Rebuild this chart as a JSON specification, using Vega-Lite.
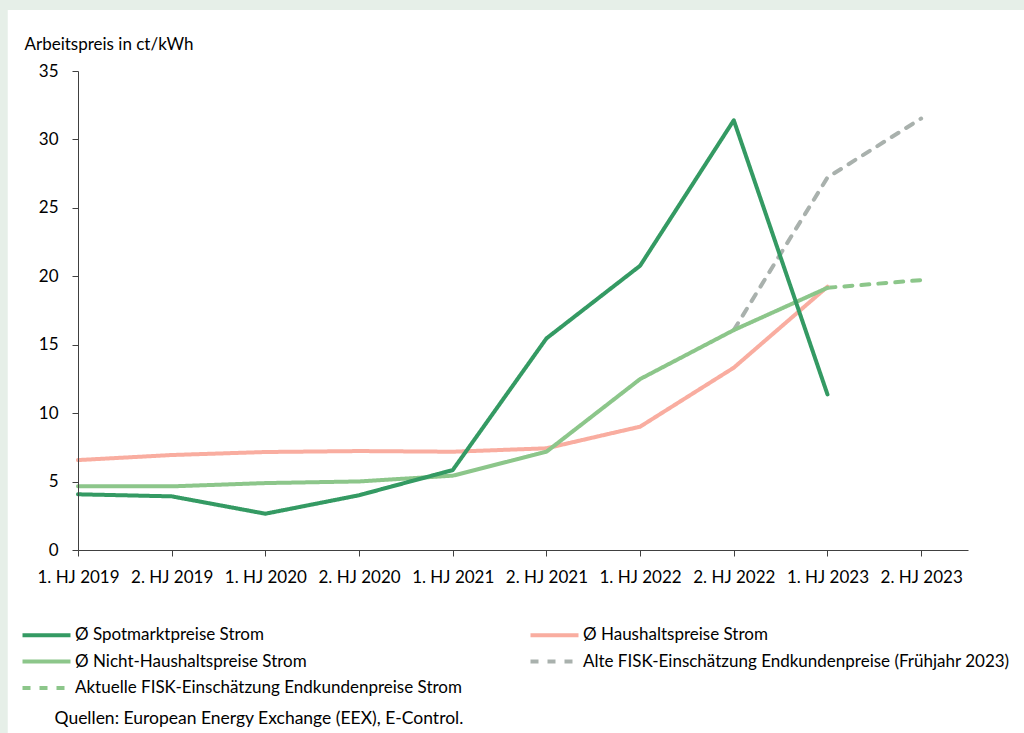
{
  "$schema": "https://vega.github.io/schema/vega-lite/v6.json",
  "autosize": {"type": "none"},
  "width": 890,
  "height": 479,
  "padding": {"left": 78, "top": 71, "right": 56, "bottom": 183},
  "background": "#e6efe8",
  "config": {
    "view": {"stroke": null},
    "font": "Lato",
    "axis": {"grid": false, "zindex": 1, "domainColor": "#404040", "tickColor": "#404040", "labelColor": "#000000", "titleColor": "#000000", "labelFont": "Lato", "titleFont": "Lato", "titleFontWeight": "normal"}
  },
  "layer": [
    {
      "data": {"values": [{"panel": "bg"}]},
      "mark": {"type": "rect", "color": "#ffffff"},
      "encoding": {
        "x": {"datum": -0.75, "type": "quantitative", "scale": {"domain": [0, 9.5]}, "axis": {"zindex": 1}},
        "x2": {"datum": 12},
        "y": {"datum": -20, "type": "quantitative", "scale": {"domain": [0, 35]}, "axis": {"zindex": 1}},
        "y2": {"datum": 39.45}
      }
    },
    {
      "data": {"values": [
        {"series": "Alte FISK-Einschätzung Endkundenpreise (Frühjahr 2023)", "i": 7, "period": "2. HJ 2022", "value": 16.07},
        {"series": "Alte FISK-Einschätzung Endkundenpreise (Frühjahr 2023)", "i": 8, "period": "1. HJ 2023", "value": 27.22},
        {"series": "Alte FISK-Einschätzung Endkundenpreise (Frühjahr 2023)", "i": 9, "period": "2. HJ 2023", "value": 31.53},
        {"series": "Aktuelle FISK-Einschätzung Endkundenpreise Strom", "i": 8, "period": "1. HJ 2023", "value": 19.16},
        {"series": "Aktuelle FISK-Einschätzung Endkundenpreise Strom", "i": 9, "period": "2. HJ 2023", "value": 19.72},
        {"series": "Ø Haushaltspreise Strom", "i": 0, "period": "1. HJ 2019", "value": 6.57},
        {"series": "Ø Haushaltspreise Strom", "i": 1, "period": "2. HJ 2019", "value": 6.94},
        {"series": "Ø Haushaltspreise Strom", "i": 2, "period": "1. HJ 2020", "value": 7.16},
        {"series": "Ø Haushaltspreise Strom", "i": 3, "period": "2. HJ 2020", "value": 7.23},
        {"series": "Ø Haushaltspreise Strom", "i": 4, "period": "1. HJ 2021", "value": 7.18},
        {"series": "Ø Haushaltspreise Strom", "i": 5, "period": "2. HJ 2021", "value": 7.43},
        {"series": "Ø Haushaltspreise Strom", "i": 6, "period": "1. HJ 2022", "value": 9.01},
        {"series": "Ø Haushaltspreise Strom", "i": 7, "period": "2. HJ 2022", "value": 13.32},
        {"series": "Ø Haushaltspreise Strom", "i": 8, "period": "1. HJ 2023", "value": 19.24},
        {"series": "Ø Nicht-Haushaltspreise Strom", "i": 0, "period": "1. HJ 2019", "value": 4.65},
        {"series": "Ø Nicht-Haushaltspreise Strom", "i": 1, "period": "2. HJ 2019", "value": 4.65},
        {"series": "Ø Nicht-Haushaltspreise Strom", "i": 2, "period": "1. HJ 2020", "value": 4.89},
        {"series": "Ø Nicht-Haushaltspreise Strom", "i": 3, "period": "2. HJ 2020", "value": 5.01},
        {"series": "Ø Nicht-Haushaltspreise Strom", "i": 4, "period": "1. HJ 2021", "value": 5.43},
        {"series": "Ø Nicht-Haushaltspreise Strom", "i": 5, "period": "2. HJ 2021", "value": 7.18},
        {"series": "Ø Nicht-Haushaltspreise Strom", "i": 6, "period": "1. HJ 2022", "value": 12.49},
        {"series": "Ø Nicht-Haushaltspreise Strom", "i": 7, "period": "2. HJ 2022", "value": 16.07},
        {"series": "Ø Nicht-Haushaltspreise Strom", "i": 8, "period": "1. HJ 2023", "value": 19.16},
        {"series": "Ø Spotmarktpreise Strom", "i": 0, "period": "1. HJ 2019", "value": 4.07},
        {"series": "Ø Spotmarktpreise Strom", "i": 1, "period": "2. HJ 2019", "value": 3.92},
        {"series": "Ø Spotmarktpreise Strom", "i": 2, "period": "1. HJ 2020", "value": 2.65},
        {"series": "Ø Spotmarktpreise Strom", "i": 3, "period": "2. HJ 2020", "value": 4.0},
        {"series": "Ø Spotmarktpreise Strom", "i": 4, "period": "1. HJ 2021", "value": 5.84},
        {"series": "Ø Spotmarktpreise Strom", "i": 5, "period": "2. HJ 2021", "value": 15.46},
        {"series": "Ø Spotmarktpreise Strom", "i": 6, "period": "1. HJ 2022", "value": 20.77},
        {"series": "Ø Spotmarktpreise Strom", "i": 7, "period": "2. HJ 2022", "value": 31.4},
        {"series": "Ø Spotmarktpreise Strom", "i": 8, "period": "1. HJ 2023", "value": 11.37}
      ]},
      "mark": {"type": "line", "strokeWidth": 4, "strokeCap": "round", "strokeJoin": "round"},
      "encoding": {
        "x": {
          "field": "i", "type": "quantitative",
          "scale": {"domain": [0, 9.5], "nice": false, "zero": false},
          "axis": {
            "zindex": 1,
            "values": [0, 1, 2, 3, 4, 5, 6, 7, 8, 9],
            "labelExpr": "['1. HJ 2019','2. HJ 2019','1. HJ 2020','2. HJ 2020','1. HJ 2021','2. HJ 2021','1. HJ 2022','2. HJ 2022','1. HJ 2023','2. HJ 2023'][datum.value]",
            "labelFontSize": 17, "labelPadding": 13, "tickSize": 6, "labelFlush": false, "labelOverlap": false,
            "title": "Quellen: European Energy Exchange (EEX), E-Control.",
            "titleFontSize": 17.5, "titleAnchor": "start", "titleAlign": "left", "titleBaseline": "alphabetic",
            "titleX": -24, "titleY": 173
          }
        },
        "y": {
          "field": "value", "type": "quantitative",
          "scale": {"domain": [0, 35], "nice": false},
          "axis": {
            "zindex": 1,
            "values": [0, 5, 10, 15, 20, 25, 30, 35],
            "labelFontSize": 17, "labelPadding": 14, "tickSize": 6,
            "title": "Arbeitspreis in ct/kWh", "titleAngle": 0, "titleFontSize": 17,
            "titleAlign": "left", "titleBaseline": "alphabetic", "titleX": -54, "titleY": -22
          }
        },
        "color": {
          "field": "series", "type": "nominal",
          "scale": {
            "domain": ["Ø Spotmarktpreise Strom", "Ø Haushaltspreise Strom", "Ø Nicht-Haushaltspreise Strom", "Alte FISK-Einschätzung Endkundenpreise (Frühjahr 2023)", "Aktuelle FISK-Einschätzung Endkundenpreise Strom"],
            "range": ["#349a63", "#f9ada0", "#8cc68a", "#a9b1ad", "#8cc68a"]
          },
          "legend": {
            "orient": "none", "legendX": -40, "legendY": 555.5, "columns": 2, "direction": "horizontal", "title": null,
            "symbolType": "M-4,0H4", "symbolSize": 144, "symbolStrokeWidth": 4,
            "labelFont": "Lato", "labelFontSize": 17, "labelColor": "#000000", "labelOffset": 20,
            "columnPadding": 60, "rowPadding": 8.5, "labelLimit": 600
          }
        },
        "strokeDash": {
          "field": "series", "type": "nominal",
          "scale": {
            "domain": ["Ø Spotmarktpreise Strom", "Ø Haushaltspreise Strom", "Ø Nicht-Haushaltspreise Strom", "Alte FISK-Einschätzung Endkundenpreise (Frühjahr 2023)", "Aktuelle FISK-Einschätzung Endkundenpreise Strom"],
            "range": [[1, 0], [1, 0], [1, 0], [8, 9], [8, 9]]
          },
          "legend": {
            "orient": "none", "legendX": -40, "legendY": 555.5, "columns": 2, "direction": "horizontal", "title": null,
            "symbolType": "M-4,0H4", "symbolSize": 144, "symbolStrokeWidth": 4,
            "labelFont": "Lato", "labelFontSize": 17, "labelColor": "#000000", "labelOffset": 20,
            "columnPadding": 60, "rowPadding": 8.5, "labelLimit": 600
          }
        },
        "order": {"field": "i"}
      }
    }
  ]
}
